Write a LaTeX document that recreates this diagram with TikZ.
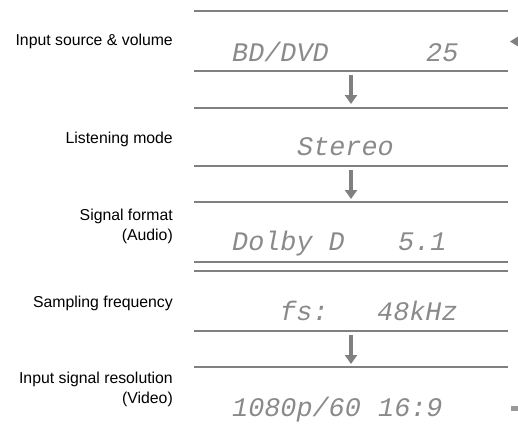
\documentclass[tikz,border=0pt]{standalone}
\usepackage{fontspec}
\setmainfont{Liberation Sans}
\newfontfamily\dotfont{Liberation Mono}
\usetikzlibrary{arrows.meta}
\definecolor{rulegray}{HTML}{808080}
\definecolor{dotgray}{HTML}{8A8A8A}
\tikzset{
  rule/.style={draw=rulegray, line width=1.3pt},
  flowarrow/.style={draw=rulegray, line width=3.6pt, -{Triangle[width=12pt,length=9pt]}},
  lbl/.style={anchor=base east, inner sep=0pt, font=\fontsize{15.8}{20}\selectfont, align=right},
  disp/.style={anchor=base west, inner sep=0pt, text=dotgray, font=\dotfont\itshape\fontsize{26.8}{28}\selectfont},
}
\begin{document}
\begin{tikzpicture}[x=1pt,y=-1pt]
\useasboundingbox (0,0) rectangle (518,424);
% horizontal rules
\foreach \yy in {11,71,108,166,202,262,271,331,367}
  \draw[rule] (194,\yy) -- (508,\yy);
% left labels
\node[lbl] (l1) at (173,45) {Input source \& volume};
\node[lbl] (l2) at (173,143) {Listening mode};
\node[lbl] (l3) at (173,240) {Signal format\\(Audio)};
\node[lbl] (l4) at (173,307) {Sampling frequency};
\node[lbl] (l5) at (173,403) {Input signal resolution\\(Video)};
% display texts
\node[disp] (d1a) at (232,61) {BD/DVD};
\node[disp] (d1b) at (426,61) {25};
\node[disp] (d2) at (297,155) {Stereo};
\node[disp] (d3a) at (232,250) {Dolby D};
\node[disp] (d3b) at (398,250) {5.1};
\node[disp] (d4a) at (280,320) {fs:};
\node[disp] (d4b) at (377,320) {48kHz};
\node[disp] (d5a) at (232,416) {1080p/60};
\node[disp] (d5b) at (378,416) {16:9};
% arrows
\coordinate (a1s) at (351,75);  \coordinate (a1e) at (351,104);
\coordinate (a2s) at (351,170); \coordinate (a2e) at (351,199);
\coordinate (a3s) at (351,335); \coordinate (a3e) at (351,364);
\draw[flowarrow] (a1s) -- (a1e);
\draw[flowarrow] (a2s) -- (a2e);
\draw[flowarrow] (a3s) -- (a3e);
% right edge markers
\fill[rulegray] (510,41.5) -- (518,36.5) -- (518,46.5) -- cycle;
\fill[rulegray!80] (511,405.5) rectangle (518,410.5);
\end{tikzpicture}
\end{document}
